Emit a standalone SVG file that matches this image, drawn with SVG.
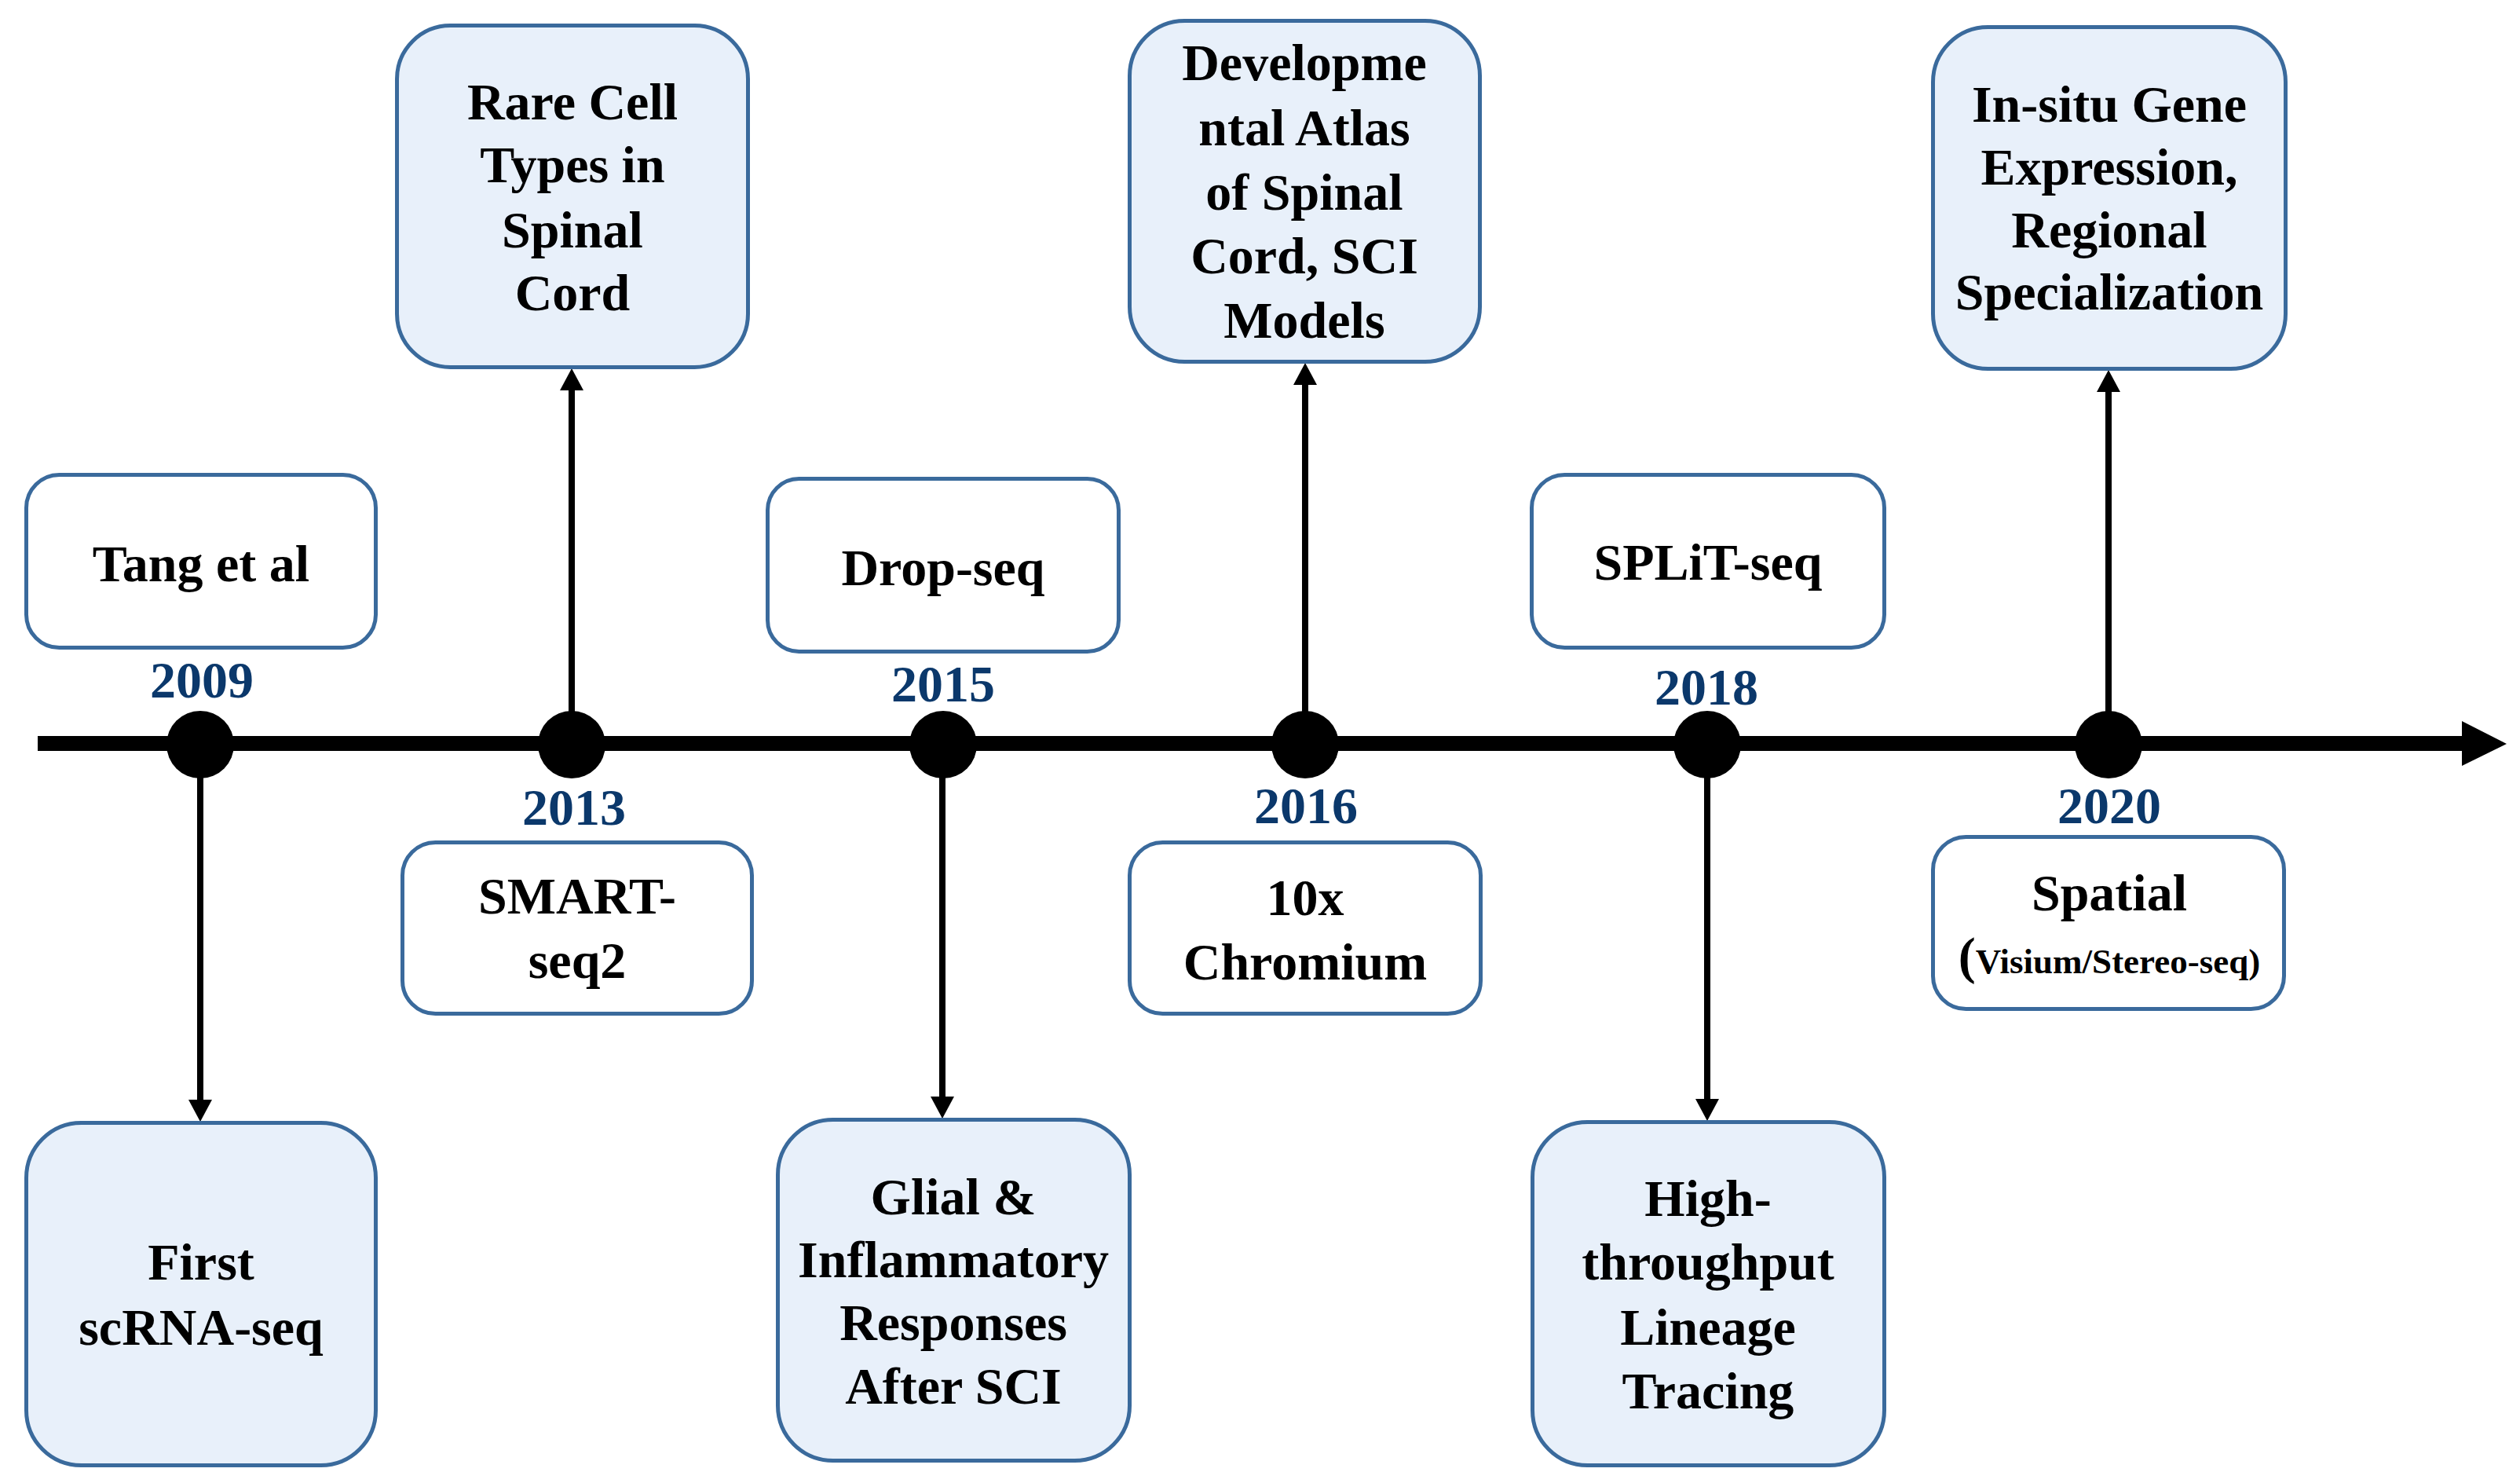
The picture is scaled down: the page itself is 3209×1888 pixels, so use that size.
<svg xmlns="http://www.w3.org/2000/svg" width="3209" height="1888" viewBox="0 0 3209 1888">
<style>
.box{stroke:#3A6A9C;stroke-width:5}
.plain{fill:#FFFFFF}
.tint{fill:#E8F0FA}
.t{font-family:"Liberation Serif","Times New Roman",serif;font-weight:bold;font-size:66px;fill:#000000;text-anchor:middle}
.yr{font-family:"Liberation Serif","Times New Roman",serif;font-weight:bold;font-size:66px;fill:#0B386B;text-anchor:middle}
.conn{stroke:#000000;stroke-width:8;fill:none}
</style>
<defs>
<marker id="ah" markerUnits="userSpaceOnUse" markerWidth="28" markerHeight="30" viewBox="0 0 28 30" refX="0" refY="15" orient="auto">
<path d="M0,0 L28,15 L0,30 Z" fill="#000000"/>
</marker>
</defs>
<rect width="3209" height="1888" fill="#FFFFFF"/>

<g id="connectors">
<line class="conn" x1="255" y1="948" x2="255" y2="1400" marker-end="url(#ah)"/>
<line class="conn" x1="728" y1="948" x2="728" y2="497" marker-end="url(#ah)"/>
<line class="conn" x1="1200" y1="948" x2="1200" y2="1396" marker-end="url(#ah)"/>
<line class="conn" x1="1662" y1="948" x2="1662" y2="490" marker-end="url(#ah)"/>
<line class="conn" x1="2174" y1="948" x2="2174" y2="1399" marker-end="url(#ah)"/>
<line class="conn" x1="2685" y1="948" x2="2685" y2="499" marker-end="url(#ah)"/>
</g>

<g id="timeline">
<line x1="48" y1="946.5" x2="3137" y2="946.5" stroke="#000000" stroke-width="19"/>
<polygon points="3135,918 3192,947 3135,975" fill="#000000"/>
<circle cx="255" cy="948" r="43" fill="#000000"/>
<circle cx="728" cy="948" r="43" fill="#000000"/>
<circle cx="1201" cy="948" r="43" fill="#000000"/>
<circle cx="1662" cy="948" r="43" fill="#000000"/>
<circle cx="2174" cy="948" r="43" fill="#000000"/>
<circle cx="2685" cy="948" r="43" fill="#000000"/>
</g>

<g id="years">
<text class="yr" x="257" y="888">2009</text>
<text class="yr" x="731" y="1050">2013</text>
<text class="yr" x="1201" y="893">2015</text>
<text class="yr" x="1663" y="1048">2016</text>
<text class="yr" x="2173" y="897">2018</text>
<text class="yr" x="2686" y="1048">2020</text>
</g>

<g id="node-tang">
<rect class="box plain" x="33.5" y="604.5" width="445" height="220" rx="42"/>
<text class="t" x="256" y="740">Tang et al</text>
</g>

<g id="node-first">
<rect class="box tint" x="33.5" y="1429.5" width="445" height="436" rx="70"/>
<text class="t" x="256" y="1629">First</text>
<text class="t" x="256" y="1712">scRNA-seq</text>
</g>

<g id="node-rare">
<rect class="box tint" x="505.5" y="32.5" width="447" height="435" rx="68"/>
<text class="t" x="729" y="152">Rare Cell</text>
<text class="t" x="729" y="232">Types in</text>
<text class="t" x="729" y="315">Spinal</text>
<text class="t" x="729" y="395">Cord</text>
</g>

<g id="node-smart">
<rect class="box plain" x="512.5" y="1072.5" width="445" height="218" rx="42"/>
<text class="t" x="735" y="1163">SMART-</text>
<text class="t" x="735" y="1245">seq2</text>
</g>

<g id="node-drop">
<rect class="box plain" x="977.5" y="609.5" width="447" height="220" rx="40"/>
<text class="t" x="1201" y="745">Drop-seq</text>
</g>

<g id="node-glial">
<rect class="box tint" x="990.5" y="1425.5" width="448" height="434" rx="70"/>
<text class="t" x="1214" y="1546">Glial &amp;</text>
<text class="t" x="1214" y="1626">Inflammatory</text>
<text class="t" x="1214" y="1706">Responses</text>
<text class="t" x="1214" y="1787">After SCI</text>
</g>

<g id="node-dev">
<rect class="box tint" x="1438.5" y="26.5" width="446" height="434" rx="70"/>
<text class="t" x="1661" y="102">Developme</text>
<text class="t" x="1661" y="185">ntal Atlas</text>
<text class="t" x="1661" y="267">of Spinal</text>
<text class="t" x="1661" y="348">Cord, SCI</text>
<text class="t" x="1661" y="430">Models</text>
</g>

<g id="node-10x">
<rect class="box plain" x="1438.5" y="1072.5" width="447" height="218" rx="42"/>
<text class="t" x="1662" y="1165">10x</text>
<text class="t" x="1662" y="1247">Chromium</text>
</g>

<g id="node-split">
<rect class="box plain" x="1950.5" y="604.5" width="449" height="220" rx="42"/>
<text class="t" x="2175" y="738">SPLiT-seq</text>
</g>

<g id="node-high">
<rect class="box tint" x="1951.5" y="1428.5" width="448" height="437" rx="70"/>
<text class="t" x="2175" y="1548">High-</text>
<text class="t" x="2175" y="1629">throughput</text>
<text class="t" x="2175" y="1712">Lineage</text>
<text class="t" x="2175" y="1793">Tracing</text>
</g>

<g id="node-insitu">
<rect class="box tint" x="2461.5" y="34.5" width="449" height="435" rx="70"/>
<text class="t" x="2686" y="155">In-situ Gene</text>
<text class="t" x="2686" y="235">Expression,</text>
<text class="t" x="2686" y="315">Regional</text>
<text class="t" x="2686" y="394">Specialization</text>
</g>

<g id="node-spatial">
<rect class="box plain" x="2461.5" y="1065.5" width="447" height="219" rx="42"/>
<text class="t" x="2686" y="1159">Spatial</text>
<text class="t" x="2686" y="1239"><tspan font-size="66">(</tspan><tspan font-size="45">Visium/Stereo-seq)</tspan></text>
</g>
</svg>
